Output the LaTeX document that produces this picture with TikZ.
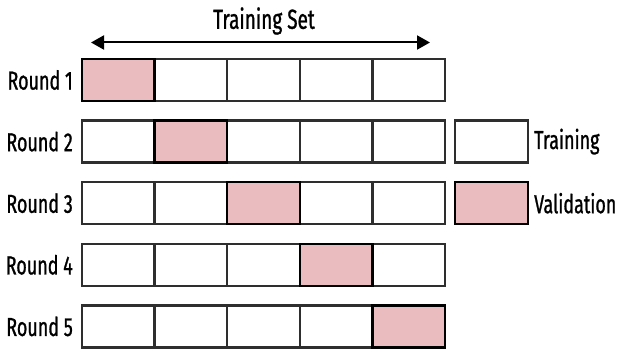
\documentclass[tikz,border=0pt]{standalone}
\usepackage{fontspec}
\setmainfont{Fira Sans}[FakeStretch=0.69, FakeBold=1]
\usetikzlibrary{arrows.meta}

\definecolor{valpink}{HTML}{EBBCBF}
\definecolor{boxline}{HTML}{2E2E2E}

\tikzset{
  cell/.style={draw=boxline, line width=2.4pt, fill=white, inner sep=0pt,
    minimum width=72.6pt, minimum height=42pt},
  valcell/.style={cell, fill=valpink, draw=black},
  lbl/.style={font=\fontsize{26}{30}\selectfont, inner sep=0pt}
}

\begin{document}
\begin{tikzpicture}[x=1pt, y=-1pt]
      \useasboundingbox (0,0) rectangle (621,352);

      % draw the training set arrow
      \node[lbl, font=\fontsize{27.5}{32}\selectfont] (title) at (264,21) {Training Set};
      \coordinate (setL) at (91,42.5);
      \coordinate (setR) at (430,42.5);
      \draw[{Triangle[length=13pt,width=14pt]}-{Triangle[length=13pt,width=14pt]}, line width=2pt] (setL) -- (setR);

      % draw the five rounds
      \foreach \r in {1,...,5} {
        \pgfmathsetmacro{\yy}{80+61.6*(\r-1)}
        \node[lbl, anchor=east] (round\r) at (73,\yy) {Round \r};
        \foreach \c in {1,...,5} {
          \ifnum\c=\r\relax\else
            \node[cell] (c\r\c) at (82+72.6*\c-36.3,\yy) {};
          \fi
        }
        \node[valcell] (c\r\r) at (82+72.6*\r-36.3,\yy) {};
      }

      % draw the legend
      \node[cell, minimum width=73pt] (legtrain) at (491.5,141.6) {};
      \node[valcell, minimum width=73pt] (legval) at (491.5,203.2) {};
      \node[lbl, anchor=west] (legtraintxt) at (534,141.6) {Training};
      \node[lbl, anchor=west] (legvaltxt) at (534,203.2) {Validation};
\end{tikzpicture}
\end{document}
